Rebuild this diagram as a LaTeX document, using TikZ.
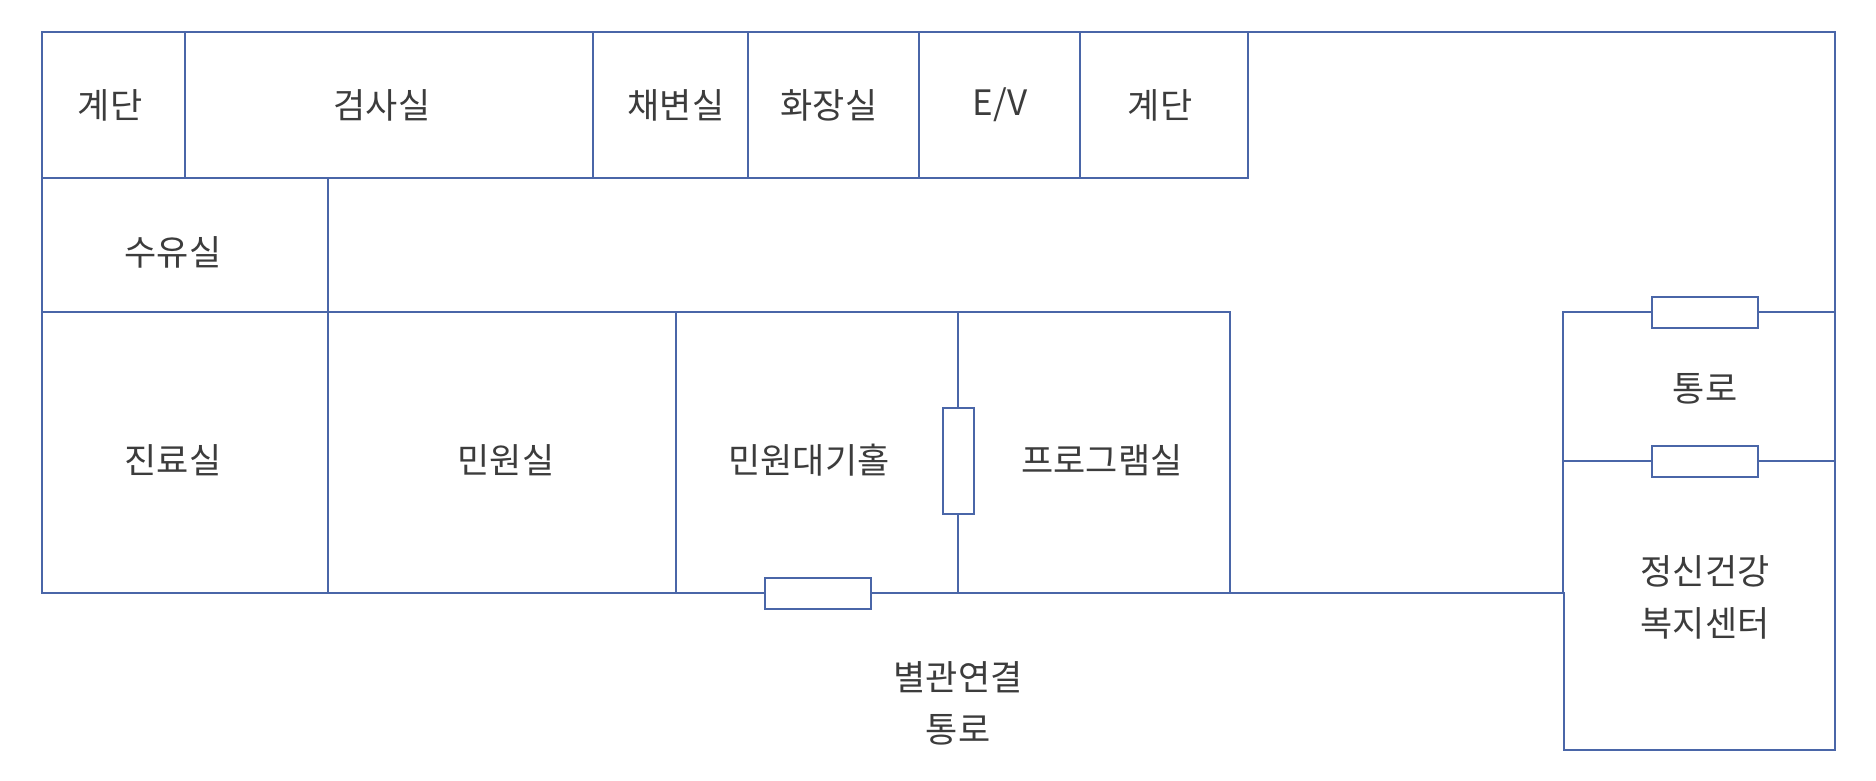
\documentclass[tikz,border=0pt]{standalone}
\usepackage{fontspec}
\setmainfont{Noto Sans CJK KR}
\definecolor{wallblue}{HTML}{4A66A8}
\definecolor{labelgray}{HTML}{3C3C3C}
\tikzset{
    wall/.style={draw=wallblue,line width=1pt,line cap=rect},
    door/.style={draw=wallblue,line width=1pt,fill=white},
    room/.style={text=labelgray,font=\fontsize{17.5}{26}\selectfont,align=center,inner sep=0pt},
}
\begin{document}
\begin{tikzpicture}[x=0.5pt,y=-0.5pt]
    \useasboundingbox (0,0) rectangle (1876,781);
    \coordinate (nw) at (42,32);
    \coordinate (ne) at (1835,32);
    \coordinate (se) at (1835,750);
    \coordinate (sw) at (1564,750);
    \coordinate (w) at (42,593);
    \coordinate (jog) at (1564,593);
    \coordinate (jogtop) at (1563,593);
    \coordinate (annex) at (1563,312);
    \coordinate (annexmid) at (1563,461);
    \coordinate (row) at (42,178);
    \coordinate (rowend) at (1248,178);
    \coordinate (hall) at (42,312);
    \coordinate (hallend) at (1230,312);
    % outer walls
    \draw[wall] (w) -- (nw) -- (ne) -- (se) -- (sw) -- (jog) -- (w);
    \draw[wall] (jogtop) -- (annex) -- (1835,312);
    \draw[wall] (annexmid) -- (1835,461);
    % top row
    \draw[wall] (row) -- (rowend) -- (1248,32);
    \draw[wall] (185,32) -- (185,178);
    \draw[wall] (593,32) -- (593,178);
    \draw[wall] (748,32) -- (748,178);
    \draw[wall] (919,32) -- (919,178);
    \draw[wall] (1080,32) -- (1080,178);
    % lower rooms
    \draw[wall] (hall) -- (hallend) -- (1230,593);
    \draw[wall] (328,178) -- (328,593);
    \draw[wall] (676,312) -- (676,593);
    \draw[wall] (958,312) -- (958,593);
    % doors
    \draw[door] (1652,297) rectangle (1758,328);
    \draw[door] (1652,446) rectangle (1758,477);
    \draw[door] (943,408) rectangle (974,514);
    \draw[door] (765,578) rectangle (871,609);
    % labels
    \node[room] (stairsa) at (110,105) {계단};
    \node[room] (exam) at (382,105) {검사실};
    \node[room] (stool) at (676,105) {채변실};
    \node[room] (toilet) at (829,105) {화장실};
    \node[room] (lift) at (1000,105) {E/V};
    \node[room] (stairsb) at (1160,105) {계단};
    \node[room] (nursing) at (173,252) {수유실};
    \node[room] (clinic) at (173,460) {진료실};
    \node[room] (civil) at (506,460) {민원실};
    \node[room] (waiting) at (809,460) {민원대기홀};
    \node[room] (program) at (1102,460) {프로그램실};
    \node[room] (passage) at (1705,389) {통로};
    \node[room] (welfare) at (1705,597) {정신건강\\복지센터};
    \node[room] (link) at (958,703) {별관연결\\통로};
\end{tikzpicture}
\end{document}
